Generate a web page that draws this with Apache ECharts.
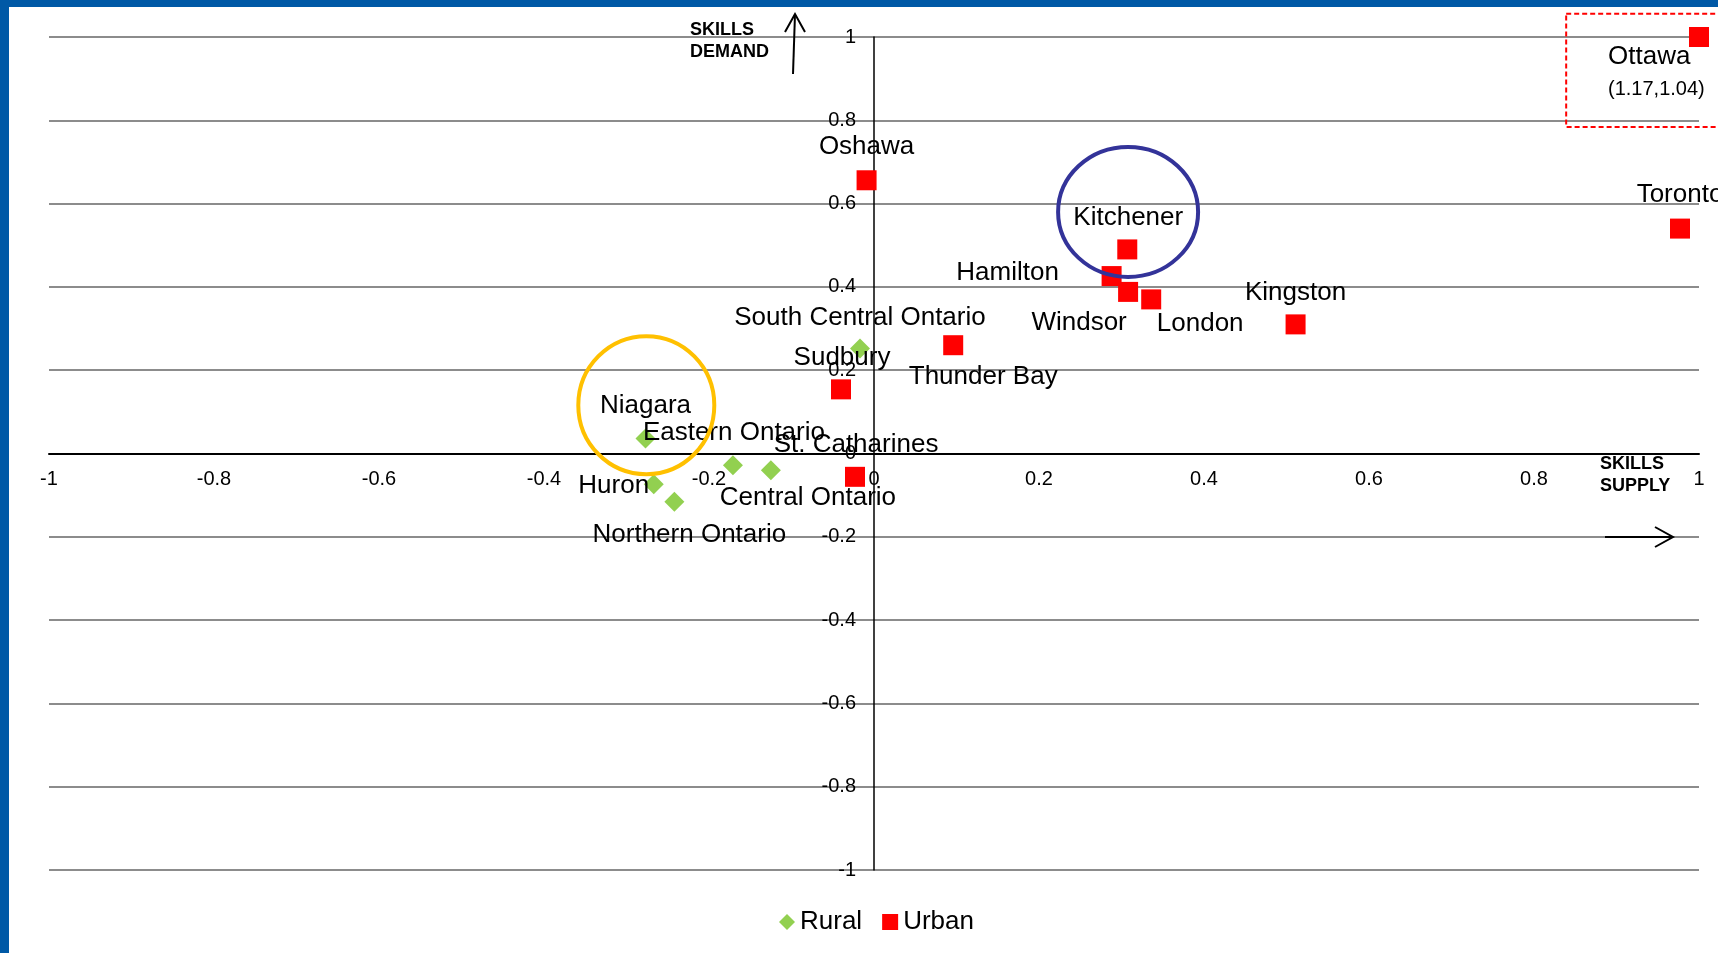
<!DOCTYPE html>
<html>
<head>
<meta charset="utf-8">
<title>Skills supply vs demand</title>
<script src="https://cdn.jsdelivr.net/npm/echarts@6/dist/echarts.min.js"></script>
<style>
    html, body { margin: 0; padding: 0; background: #fff; }
    #chart { width: 1718px; height: 953px; }
    .band { position: absolute; background: #0059a6; }
</style>
</head>
<body>
<div id="chart"></div>
<div class="band" style="left:0;top:0;width:1718px;height:7px"></div>
<div class="band" style="left:0;top:0;width:9px;height:953px"></div>
<script>
// values (x = skills supply, y = skills demand)
const ruralNames = ['Niagara', 'Huron', 'Northern Ontario', 'Eastern Ontario', 'Central Ontario', 'South Central Ontario'];
const ruralSupply = [-0.277, -0.267, -0.242, -0.171, -0.125, -0.017];
const ruralDemand = [0.036, -0.074, -0.116, -0.028, -0.040, 0.252];

const urbanNames = ['Ottawa', 'Toronto', 'Oshawa', 'Kitchener', 'Hamilton', 'Windsor', 'London', 'Kingston', 'Thunder Bay', 'Sudbury', 'St. Catharines'];
const urbanSupply = [1.0, 0.977, -0.009, 0.307, 0.288, 0.308, 0.336, 0.511, 0.096, -0.040, -0.023];
const urbanDemand = [1.0, 0.540, 0.656, 0.490, 0.426, 0.388, 0.370, 0.310, 0.260, 0.154, -0.056];

// Ottawa sits off the scale, it is drawn at the corner with its real value noted
const ottawaNote = '(1.17,1.04)';

const axisTicks = [-1, -0.8, -0.6, -0.4, -0.2, 0, 0.2, 0.4, 0.6, 0.8, 1];

// label placement (pixels from the marker centre)
const ruralLabelOffsets = [[0, -33], [-40, 2], [15, 33], [1, -32], [37, 28], [0, -31]];
const urbanLabelOffsets = [[-91, 36], [0, -34], [0, -33], [1, -32], [-104, -3], [-49, 31], [49, 24], [0, -32], [30, 32], [1, -32], [1, -32]];

const FONT = 'Liberation Sans';
const RED = '#ff0000';
const GREEN = '#92d050';

function buildPoints(names, xs, ys, offsets) {
    return names.map(function (n, i) {
        return {name: n, value: [xs[i], ys[i]], label: {offset: offsets[i]}};
    });
}

let urbanPoints = buildPoints(urbanNames, urbanSupply, urbanDemand, urbanLabelOffsets);
urbanPoints[0].label = {
    offset: urbanLabelOffsets[0],
    align: 'left',
    formatter: '{n|Ottawa}\n{c|' + ottawaNote + '}',
    rich: {
        n: {fontSize: 26, lineHeight: 32, fontFamily: FONT, color: '#000'},
        c: {fontSize: 20, lineHeight: 32, fontFamily: FONT, color: '#000'}
    }
};

let chart = echarts.init(document.getElementById('chart'));

let labelStyle = {
    show: true,
    position: 'inside',
    formatter: '{b}',
    color: '#000',
    fontSize: 26,
    fontFamily: FONT
};

const gridBox = {left: 49, right: 19, top: 37, bottom: 83};

chart.setOption({
    animation: false,
    backgroundColor: '#fff',
    grid: Object.assign({outerBoundsMode: 'none', containLabel: false}, gridBox),
    legend: {
        data: [{name: 'Rural', icon: 'diamond'}, {name: 'Urban', icon: 'rect'}],
        left: 774,
        top: 904,
        itemWidth: 16,
        itemHeight: 16,
        itemGap: 20,
        textStyle: {fontSize: 26, fontFamily: FONT, color: '#000'}
    },
    xAxis: {
        type: 'value',
        position: 'bottom',
        min: axisTicks[0],
        max: axisTicks[axisTicks.length - 1],
        interval: 0.2,
        axisLine: {show: true, onZero: false, lineStyle: {color: '#000', width: 2}},
        axisTick: {show: false},
        splitLine: {show: false},
        axisLabel: {fontSize: 20, fontFamily: FONT, color: '#000', margin: 16}
    },
    yAxis: {
        type: 'value',
        position: 'left',
        min: axisTicks[0],
        max: axisTicks[axisTicks.length - 1],
        interval: 0.2,
        axisLine: {show: true, onZero: false, lineStyle: {color: '#000', width: 1.5}},
        axisTick: {show: false},
        splitLine: {show: true, lineStyle: {color: '#8c8c8c', width: 2}},
        axisLabel: {fontSize: 20, fontFamily: FONT, color: '#000', margin: 18}
    },
    series: [
        {
            name: 'Rural',
            type: 'scatter',
            symbol: 'diamond',
            symbolSize: 20,
            clip: false,
            itemStyle: {color: GREEN, opacity: 1},
            label: labelStyle,
            emphasis: {disabled: true},
            data: buildPoints(ruralNames, ruralSupply, ruralDemand, ruralLabelOffsets)
        },
        {
            name: 'Urban',
            type: 'scatter',
            symbol: 'rect',
            symbolSize: 20,
            clip: false,
            itemStyle: {color: RED, opacity: 1},
            label: labelStyle,
            emphasis: {disabled: true},
            data: urbanPoints
        }
    ]
});

// move both axes (line + labels) onto the origin
let origin = chart.convertToPixel({gridIndex: 0}, [0, 0]);
chart.setOption({
    xAxis: {offset: origin[1] - (953 - gridBox.bottom)},
    yAxis: {offset: gridBox.left - origin[0]}
});

// annotations, anchored in data space
const rings = [
    {center: [0.308, 0.580], rx: 70, ry: 65, color: '#333399'},
    {center: [-0.276, 0.116], rx: 68, ry: 69, color: '#ffc000'}
];
const ottawaBox = {from: [0.839, 1.056], to: [1.05, 0.784]};

let graphics = rings.map(function (r) {
    let p = chart.convertToPixel({gridIndex: 0}, r.center);
    return {
        type: 'ellipse',
        shape: {cx: p[0], cy: p[1], rx: r.rx, ry: r.ry},
        style: {fill: 'none', stroke: r.color, lineWidth: 4},
        z: 100
    };
});

let b0 = chart.convertToPixel({gridIndex: 0}, ottawaBox.from);
let b1 = chart.convertToPixel({gridIndex: 0}, ottawaBox.to);
graphics.push({
    type: 'rect',
    shape: {x: b0[0], y: b0[1], width: b1[0] - b0[0], height: b1[1] - b0[1]},
    style: {fill: 'none', stroke: RED, lineWidth: 2, lineDash: [5, 3]},
    z: 100
});

// axis captions and arrows
graphics.push(
    {
        type: 'text', left: 690, top: 19, z: 100,
        style: {text: 'SKILLS\nDEMAND', font: 'bold 18px "Liberation Sans"', lineHeight: 22, fill: '#000'}
    },
    {
        type: 'polyline', z: 100,
        shape: {points: [[793, 74], [795, 14]]},
        style: {stroke: '#000', lineWidth: 2, fill: 'none'}
    },
    {
        type: 'polyline', z: 100,
        shape: {points: [[785, 32], [795, 14], [805, 32]]},
        style: {stroke: '#000', lineWidth: 2, fill: 'none'}
    },
    {
        type: 'text', left: 1600, top: 453, z: 100,
        style: {text: 'SKILLS\nSUPPLY', font: 'bold 18px "Liberation Sans"', lineHeight: 22, fill: '#000'}
    },
    {
        type: 'polyline', z: 100,
        shape: {points: [[1605, 537], [1673, 537]]},
        style: {stroke: '#000', lineWidth: 2, fill: 'none'}
    },
    {
        type: 'polyline', z: 100,
        shape: {points: [[1655, 527], [1673, 537], [1655, 547]]},
        style: {stroke: '#000', lineWidth: 2, fill: 'none'}
    }
);

chart.setOption({graphic: graphics});
</script>
</body>
</html>
